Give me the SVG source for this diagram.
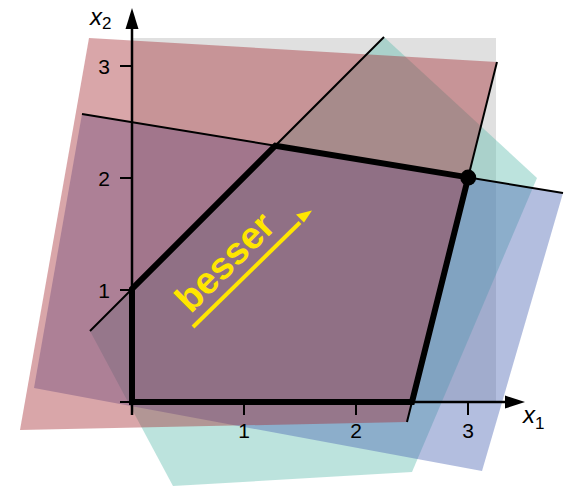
<svg xmlns="http://www.w3.org/2000/svg" width="568" height="487" viewBox="0 0 568 487">
<style>
.reg{stroke:none;fill-opacity:0.42}
.cl{stroke:#000;stroke-width:2;fill:none}
.ax{stroke:#000;stroke-width:2.5;fill:none}
.tk{stroke:#000;stroke-width:2;fill:none}
.num{font-family:"Liberation Sans",Arial,sans-serif;font-size:21px;fill:#000}
.lab{font-family:"Liberation Sans",Arial,sans-serif;font-size:24px;font-style:italic;fill:#000}
.sub{font-style:normal;font-size:17px}
</style>
<rect id="bg-quadrant" x="132" y="38" width="364" height="364" fill="#e0e0e0"/>
<g id="region-teal"><polygon class="reg" fill="#5fbcae" points="90,331 384,37 537,178 412,472 173,486"/></g>
<g id="region-blue"><polygon class="reg" fill="#4a64b3" points="82,114 563,193 482,471 34,388"/></g>
<g id="region-pink"><polygon class="reg" fill="#a52b32" points="89,38 497,62 407,422 20,430"/></g>
<g id="connectors">
<line class="cl" x1="90" y1="331" x2="384" y2="37"/>
<line class="cl" x1="82" y1="114" x2="563" y2="193"/>
<line class="cl" x1="497" y1="62" x2="407" y2="422"/>
</g>
<g id="axes">
<line class="ax" x1="132" y1="402" x2="507" y2="402"/>
<polygon points="525,402 505,395.5 505,408.5" fill="#000"/>
<line class="ax" x1="132" y1="415" x2="132" y2="28"/>
<polygon points="132,8 125.5,29 138.5,29" fill="#000"/>
<path class="tk" d="M244,402v13M356,402v13M468,402v13M120,402h12M120,290h12M120,178h12M120,66h12"/>
<text class="num" x="244" y="438" text-anchor="middle">1</text>
<text class="num" x="356" y="438" text-anchor="middle">2</text>
<text class="num" x="468" y="438" text-anchor="middle">3</text>
<text class="num" x="110" y="298" text-anchor="end">1</text>
<text class="num" x="110" y="186" text-anchor="end">2</text>
<text class="num" x="110" y="74" text-anchor="end">3</text>
<text class="lab" x="90" y="25">x<tspan class="sub" dy="4">2</tspan></text>
<text class="lab" x="523" y="423">x<tspan class="sub" dy="6">1</tspan></text>
</g>
<g id="feasible">
<polygon points="132,402 132,289 275.3,145.7 468.2,177.4 412,402" fill="none" stroke="#000" stroke-width="6" stroke-linejoin="miter"/>
<circle cx="468.2" cy="177.6" r="8" fill="#000"/>
</g>
<g id="besser">
<line x1="193" y1="327" x2="300" y2="222.5" stroke="#ffe600" stroke-width="4"/>
<polygon points="312,210.5 296,214.5 304,222.5" fill="#ffe600"/>
<text transform="translate(234,271) rotate(-45)" text-anchor="middle" font-family="Liberation Sans,Arial,sans-serif" font-weight="bold" font-size="38" fill="#ffe600">besser</text>
</g>
</svg>
